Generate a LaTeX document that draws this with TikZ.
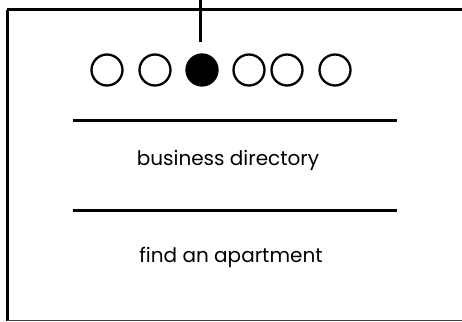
\documentclass[tikz,border=0pt]{standalone}
\usepackage{fontspec}
\setmainfont{Poppins}
\begin{document}
\begin{tikzpicture}[x=1pt,y=-1pt,
  frame/.style={line width=3pt},
  rule/.style={line width=3pt},
  dot/.style={circle,draw,line width=2.3pt,minimum size=31pt,inner sep=0pt},
  dotfull/.style={dot,fill=black},
  label/.style={font=\fontsize{20}{24}\selectfont,inner sep=0pt,anchor=base}]
\useasboundingbox (0,0) rectangle (462,321);
\begin{scope}
\clip (0,0) rectangle (462,321);
% outer panel, running off to the right
\draw[frame] (7,10) -- (480,10);
\draw[frame] (7,10) -- (7,320.5);
\draw[line width=1.5pt,black!75] (7,320.5) -- (480,320.5);
% stem from above
\coordinate (stemtop) at (200,-2);
\coordinate (stembot) at (200,42);
\draw[frame] (stemtop) -- (stembot);
\end{scope}
% page indicator
\node[dot] (d1) at (107,70) {};
\node[dot] (d2) at (155,70) {};
\node[dotfull] (d3) at (202,70) {};
\node[dot] (d4) at (249,70) {};
\node[dot] (d5) at (287,70) {};
\node[dot] (d6) at (335,70) {};
% separators
\coordinate (r1a) at (72.5,120);
\coordinate (r1b) at (397,120);
\coordinate (r2a) at (72.5,210);
\coordinate (r2b) at (397,210);
\draw[rule] (r1a) -- (r1b);
\draw[rule] (r2a) -- (r2b);
% menu entries
\node[label] (t1) at (228,165) {business directory};
\node[label] (t2) at (231,262) {find an apartment};
\end{tikzpicture}
\end{document}
